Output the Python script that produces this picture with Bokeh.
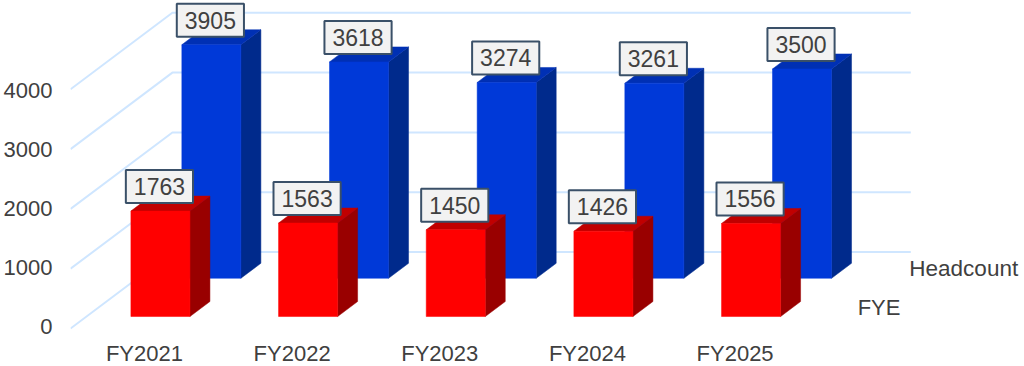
from bokeh.plotting import figure
from bokeh.models import Range1d, LinearAxis, FixedTicker
from bokeh.core.properties import value
from bokeh.embed import file_html
from bokeh.resources import INLINE

categories = ["FY2021", "FY2022", "FY2023", "FY2024", "FY2025"]
fye = [1763, 1563, 1450, 1426, 1556]
headcount = [3905, 3618, 3274, 3261, 3500]
y_ticks = [0, 1000, 2000, 3000, 4000]
FONT = "Liberation Sans"
TXT = "#404040"

# depth projection, in data units
DX = 0.69        # x shift over the whole depth
DY = 1279        # value shift over the whole depth
HALF = 0.2       # half bar width
BAR_DEPTH = 0.196
X_END = 5.19     # end of the back-wall grid lines
X0 = -0.5007


def proj(x, v, z):
    return x + z * DX, v + z * DY


p = figure(width=1024, height=366, output_backend="svg", toolbar_location=None,
           x_range=Range1d(X0, 5.96), y_range=Range1d(-635, 5485),
           min_border_left=70, min_border_right=0, min_border_top=0, min_border_bottom=0,
           x_axis_type=None, y_axis_type=None, outline_line_color=None)
p.background_fill_color = "white"
p.border_fill_color = "white"

p.extra_y_ranges = {"tick": Range1d(-667, 5511)}
yax = LinearAxis(y_range_name="tick", ticker=FixedTicker(ticks=y_ticks))
xax = LinearAxis(ticker=FixedTicker(ticks=list(range(len(categories)))),
                 major_label_overrides={i: c for i, c in enumerate(categories)},
                 fixed_location=-100)
for ax in (xax, yax):
    ax.axis_line_color = None
    ax.major_tick_line_color = None
    ax.minor_tick_line_color = None
    ax.major_label_text_font = FONT
    ax.major_label_text_color = TXT
    ax.major_label_text_font_size = "22px"
yax.major_label_standoff = 12
xax.major_label_standoff = 0
p.add_layout(yax, "left")
p.add_layout(xax, "below")

# grid: diagonal on the side wall, horizontal on the back wall
xs = [[X0, X0 + DX, X_END] for _ in y_ticks]
ys = [[t, t + DY, t + DY] for t in y_ticks]
p.multi_line(xs, ys, line_color="#cfe6ff", line_width=2)


def bars(values, z, front, side, top):
    fx, fy, sx, sy, tx, ty = [], [], [], [], [], []
    for i, v in enumerate(values):
        l, r = i - HALF, i + HALF
        a = proj(l, 0, z); b = proj(r, 0, z); c = proj(r, v, z); d = proj(l, v, z)
        e = proj(r, 0, z + BAR_DEPTH); f = proj(r, v, z + BAR_DEPTH); g = proj(l, v, z + BAR_DEPTH)
        fx.append([a[0], b[0], c[0], d[0]]); fy.append([a[1], b[1], c[1], d[1]])
        sx.append([b[0], e[0], f[0], c[0]]); sy.append([b[1], e[1], f[1], c[1]])
        tx.append([d[0], c[0], f[0], g[0]]); ty.append([d[1], c[1], f[1], g[1]])
    p.patches(sx, sy, fill_color=side, line_color=side, line_width=0.5)
    p.patches(tx, ty, fill_color=top, line_color=top, line_width=0.5)
    p.patches(fx, fy, fill_color=front, line_color=front, line_width=0.5)


def labels(values, z):
    lx, ly, lt = [], [], []
    for i, v in enumerate(values):
        x, y = proj(i, v, z)
        lx.append(x); ly.append(y); lt.append(str(v))
    p.text(lx, ly, text=lt, text_font=value(FONT), text_font_size="23px", text_color=TXT,
           text_align="center", text_baseline="bottom", y_offset=-8, x_offset=-1,
           background_fill_color="#f2f2f2", border_line_color="#3a5068", border_line_width=2,
           padding=(8, 8, 8, 8))


bars(headcount, 0.657, "#0039d8", "#002a8c", "#0030b4")
bars(fye, 0.157, "#ff0000", "#990000", "#c00000")
labels(headcount, 0.657)
labels(fye, 0.157)

p.text([5.18], [(328 - 268) / 0.0598], text=["Headcount"], text_font=value(FONT), text_font_size="22.5px",
       text_color=TXT, text_align="left", text_baseline="middle")
p.text([4.83], [(328 - 307) / 0.0598], text=["FYE"], text_font=value(FONT), text_font_size="22px",
       text_color=TXT, text_align="left", text_baseline="middle")

open("out.html", "w").write(file_html(p, INLINE))
